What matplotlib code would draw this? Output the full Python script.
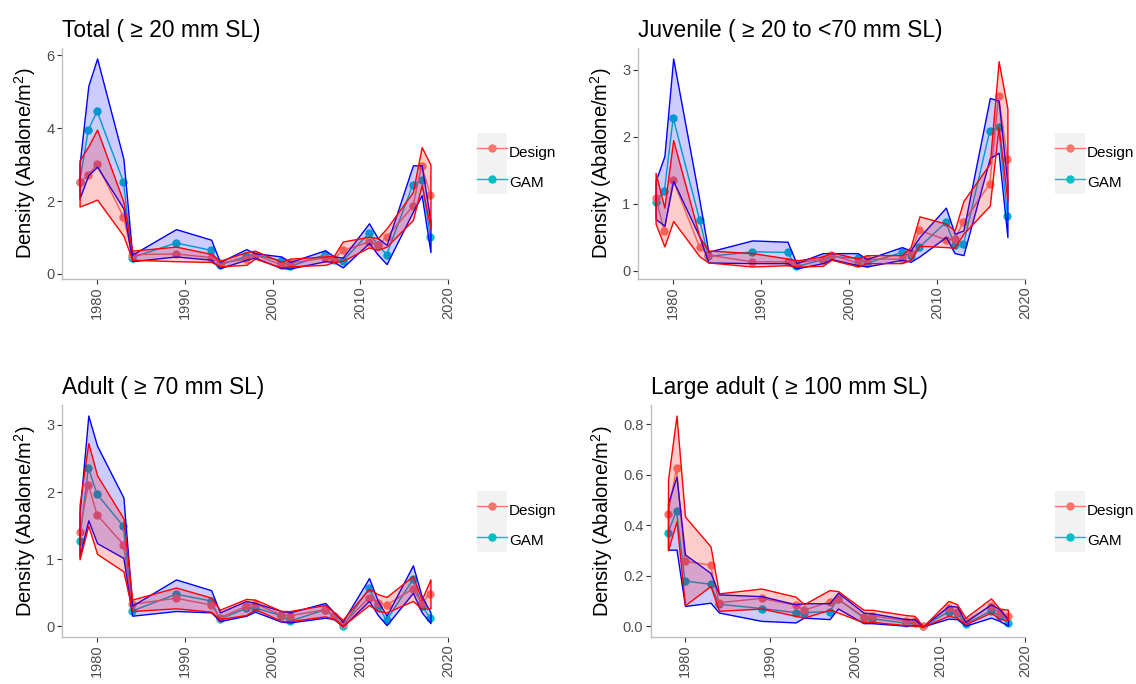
import numpy as np
import matplotlib.pyplot as plt
from matplotlib.legend_handler import HandlerLine2D
from matplotlib.lines import Line2D
from matplotlib.patches import Rectangle

plt.rcParams["font.family"] = ["Liberation Sans", "DejaVu Sans"]
plt.rcParams["mathtext.fontset"] = "custom"
plt.rcParams["mathtext.rm"] = "Liberation Sans"

years = [1978, 1979, 1980, 1983, 1984, 1989, 1993, 1994, 1997, 1998, 2001,
         2002, 2006, 2007, 2008, 2011, 2012, 2013, 2016, 2017, 2018]

# Total (>= 20 mm SL)
total_design    = [2.51, 2.71, 3.01, 1.57, 0.53, 0.55, 0.45, 0.30, 0.41, 0.53, 0.25, 0.30, 0.44, 0.41, 0.65, 0.87, 0.80, 1.01, 1.86, 2.97, 2.16]
total_design_lo = [1.85, 1.94, 2.04, 1.05, 0.39, 0.35, 0.33, 0.21, 0.25, 0.42, 0.18, 0.21, 0.25, 0.33, 0.36, 0.73, 0.66, 0.75, 1.48, 2.44, 1.25]
total_design_hi = [3.12, 3.50, 3.96, 1.98, 0.64, 0.75, 0.55, 0.36, 0.60, 0.64, 0.33, 0.42, 0.48, 0.50, 0.89, 1.02, 0.98, 1.25, 2.25, 3.48, 3.00]
total_gam       = [2.51, 3.95, 4.46, 2.53, 0.45, 0.85, 0.65, 0.25, 0.48, 0.53, 0.36, 0.21, 0.53, 0.39, 0.36, 1.12, 0.80, 0.53, 2.45, 2.57, 1.01]
total_gam_lo    = [2.07, 2.71, 2.94, 1.80, 0.35, 0.48, 0.39, 0.16, 0.39, 0.45, 0.16, 0.15, 0.35, 0.33, 0.18, 0.85, 0.53, 0.27, 1.71, 2.16, 0.60]
total_gam_hi    = [3.00, 5.16, 5.91, 3.16, 0.53, 1.23, 0.94, 0.33, 0.68, 0.57, 0.48, 0.33, 0.65, 0.48, 0.45, 1.39, 0.98, 0.80, 2.98, 2.98, 1.45]

# Juvenile (>= 20 to < 70 mm SL)
juv_design    = [1.09, 0.59, 1.35, 0.35, 0.23, 0.13, 0.13, 0.11, 0.17, 0.23, 0.11, 0.17, 0.17, 0.26, 0.60, 0.46, 0.47, 0.72, 1.30, 2.61, 1.67]
juv_design_lo = [0.70, 0.36, 0.74, 0.21, 0.12, 0.06, 0.08, 0.06, 0.07, 0.16, 0.06, 0.11, 0.11, 0.16, 0.37, 0.35, 0.34, 0.55, 0.97, 2.15, 1.04]
juv_design_hi = [1.46, 0.94, 1.95, 0.50, 0.30, 0.26, 0.18, 0.15, 0.21, 0.27, 0.18, 0.23, 0.23, 0.35, 0.81, 0.70, 0.60, 1.04, 1.60, 3.13, 2.42]
juv_gam       = [1.03, 1.19, 2.28, 0.76, 0.21, 0.28, 0.27, 0.06, 0.16, 0.21, 0.18, 0.11, 0.27, 0.21, 0.35, 0.72, 0.38, 0.39, 2.09, 2.15, 0.82]
juv_gam_lo    = [0.77, 0.67, 1.34, 0.50, 0.12, 0.11, 0.11, 0.03, 0.11, 0.17, 0.08, 0.06, 0.16, 0.13, 0.21, 0.50, 0.26, 0.23, 1.68, 1.76, 0.50]
juv_gam_hi    = [1.34, 1.71, 3.17, 1.04, 0.28, 0.45, 0.43, 0.11, 0.26, 0.26, 0.26, 0.17, 0.35, 0.30, 0.50, 0.94, 0.55, 0.60, 2.58, 2.54, 1.30]

# Adult (>= 70 mm SL)
adult_design    = [1.41, 2.11, 1.66, 1.22, 0.33, 0.42, 0.32, 0.13, 0.30, 0.34, 0.17, 0.16, 0.25, 0.15, 0.03, 0.43, 0.35, 0.32, 0.56, 0.35, 0.49]
adult_design_lo = [1.00, 1.50, 1.08, 0.82, 0.23, 0.27, 0.22, 0.11, 0.17, 0.26, 0.08, 0.08, 0.15, 0.11, 0.01, 0.32, 0.23, 0.21, 0.38, 0.26, 0.27]
adult_design_hi = [1.81, 2.73, 2.25, 1.61, 0.40, 0.58, 0.43, 0.25, 0.41, 0.40, 0.23, 0.23, 0.32, 0.21, 0.10, 0.56, 0.48, 0.44, 0.75, 0.40, 0.70]
adult_gam       = [1.27, 2.36, 1.97, 1.49, 0.23, 0.48, 0.38, 0.11, 0.27, 0.28, 0.16, 0.08, 0.25, 0.16, 0.00, 0.57, 0.31, 0.09, 0.70, 0.31, 0.12]
adult_gam_lo    = [1.04, 1.58, 1.24, 1.02, 0.16, 0.23, 0.21, 0.08, 0.16, 0.22, 0.07, 0.06, 0.13, 0.11, 0.00, 0.38, 0.17, 0.02, 0.50, 0.21, 0.05]
adult_gam_hi    = [1.68, 3.14, 2.69, 1.92, 0.31, 0.70, 0.54, 0.21, 0.38, 0.35, 0.23, 0.21, 0.35, 0.21, 0.07, 0.72, 0.38, 0.16, 0.91, 0.45, 0.21]

# Large adult (>= 100 mm SL)
large_design    = [0.446, 0.626, 0.258, 0.243, 0.094, 0.111, 0.084, 0.064, 0.098, 0.108, 0.039, 0.042, 0.022, 0.020, 0.000, 0.075, 0.059, 0.022, 0.081, 0.055, 0.042]
large_design_lo = [0.302, 0.416, 0.084, 0.160, 0.062, 0.071, 0.042, 0.035, 0.066, 0.055, 0.016, 0.018, 0.005, 0.003, 0.000, 0.042, 0.035, 0.009, 0.055, 0.029, 0.026]
large_design_hi = [0.580, 0.835, 0.435, 0.317, 0.131, 0.150, 0.118, 0.088, 0.144, 0.140, 0.066, 0.066, 0.045, 0.042, 0.000, 0.101, 0.088, 0.035, 0.111, 0.071, 0.066]
large_gam       = [0.370, 0.459, 0.180, 0.167, 0.088, 0.071, 0.055, 0.055, 0.059, 0.108, 0.035, 0.031, 0.013, 0.013, 0.000, 0.058, 0.055, 0.009, 0.062, 0.042, 0.013]
large_gam_lo    = [0.304, 0.304, 0.081, 0.094, 0.055, 0.022, 0.016, 0.035, 0.029, 0.071, 0.013, 0.013, 0.003, 0.005, 0.000, 0.031, 0.029, 0.003, 0.035, 0.022, 0.003]
large_gam_hi    = [0.488, 0.593, 0.285, 0.212, 0.127, 0.120, 0.088, 0.092, 0.092, 0.134, 0.055, 0.052, 0.029, 0.029, 0.000, 0.081, 0.079, 0.018, 0.088, 0.068, 0.029]

titles = ["Total ( \u2265 20 mm SL)", "Juvenile ( \u2265 20 to <70 mm SL)",
          "Adult ( \u2265 70 mm SL)", "Large adult ( \u2265 100 mm SL)"]
yticks = [[0, 2, 4, 6], [0, 1, 2, 3], [0, 1, 2, 3], [0.0, 0.2, 0.4, 0.6, 0.8]]
xticks = [1980, 1990, 2000, 2010, 2020]

PANELS = [
    (total_design, total_design_lo, total_design_hi, total_gam, total_gam_lo, total_gam_hi),
    (juv_design, juv_design_lo, juv_design_hi, juv_gam, juv_gam_lo, juv_gam_hi),
    (adult_design, adult_design_lo, adult_design_hi, adult_gam, adult_gam_lo, adult_gam_hi),
    (large_design, large_design_lo, large_design_hi, large_gam, large_gam_lo, large_gam_hi),
]

DESIGN_COL = "#F8766D"
GAM_COL = "#00BFC4"

# axes rectangles in pixels: left, top, right, bottom
W, H = 1136, 684
RECTS = [(62, 48, 448, 279), (638, 48, 1025, 279),
         (62, 405, 448, 637), (651, 405, 1025, 637)]
LEGEND_AT = [(477, 140), (1055, 140), (477, 498), (1055, 498)]


class KeyHandler(HandlerLine2D):
    # ggplot-like legend key: grey box behind line + point
    def create_artists(self, legend, orig_handle, xdescent, ydescent,
                       width, height, fontsize, trans):
        bg = Rectangle((-xdescent, -ydescent), width, height + ydescent,
                       facecolor="#F2F2F2", edgecolor="none", transform=trans)
        arts = super().create_artists(legend, orig_handle, xdescent, ydescent,
                                      width, height, fontsize, trans)
        return [bg] + list(arts)


fig = plt.figure(figsize=(W / 100, H / 100), dpi=100)
fig.patch.set_facecolor("white")

for i, (dsg, dlo, dhi, gam, glo, ghi) in enumerate(PANELS):
    l, t, r, b = RECTS[i]
    ax = fig.add_axes([l / W, 1 - b / H, (r - l) / W, (b - t) / H])

    ax.plot(years, gam, color=GAM_COL, lw=1.0, marker="o", ms=5, zorder=2)
    ax.plot(years, dsg, color=DESIGN_COL, lw=1.0, marker="o", ms=5, zorder=2)
    ax.fill_between(years, glo, ghi, facecolor=(0, 0, 1, 0.2), edgecolor="blue", lw=1.0, zorder=3)
    ax.fill_between(years, dlo, dhi, facecolor=(1, 0, 0, 0.2), edgecolor="red", lw=1.0, zorder=3)

    allv = np.concatenate([dsg, dlo, dhi, gam, glo, ghi])
    lo, hi = allv.min(), allv.max()
    pad = 0.05 * (hi - lo)
    ax.set_ylim(lo - pad, hi + pad)
    ax.set_xlim(1976, 2020)

    ax.set_xticks(xticks)
    ax.set_xticklabels([str(x) for x in xticks], rotation=90)
    ax.set_yticks(yticks[i])
    if i == 3:
        ax.set_yticklabels([f"{v:.1f}" for v in yticks[i]])
    ax.tick_params(colors="#333333", labelcolor="#4D4D4D", labelsize=10.5,
                   length=3.5, width=0.8, pad=2)
    for s in ["top", "right"]:
        ax.spines[s].set_visible(False)
    for s in ["left", "bottom"]:
        ax.spines[s].set_color("#BEBEBE")
        ax.spines[s].set_linewidth(1.0)

    ax.set_ylabel("Density (Abalone/m$^2$)", fontsize=14.5, color="black", labelpad=6)
    ax.set_title(titles[i], loc="left", fontsize=16.4, color="black", pad=8)

    handles = [Line2D([], [], color=DESIGN_COL, marker="o", ms=5, lw=1.0),
               Line2D([], [], color=GAM_COL, marker="o", ms=5, lw=1.0)]
    lx, ly = LEGEND_AT[i]
    ax.legend(handles, ["Design", "GAM"], loc="upper left",
              bbox_to_anchor=(lx / W, 1 - ly / H), bbox_transform=fig.transFigure,
              frameon=False, fontsize=11, borderpad=0, borderaxespad=0,
              handlelength=1.95, handleheight=2.0, labelspacing=0.45,
              handletextpad=0.15, numpoints=1,
              handler_map={Line2D: KeyHandler()})

fig.savefig("out.png", dpi=100)
